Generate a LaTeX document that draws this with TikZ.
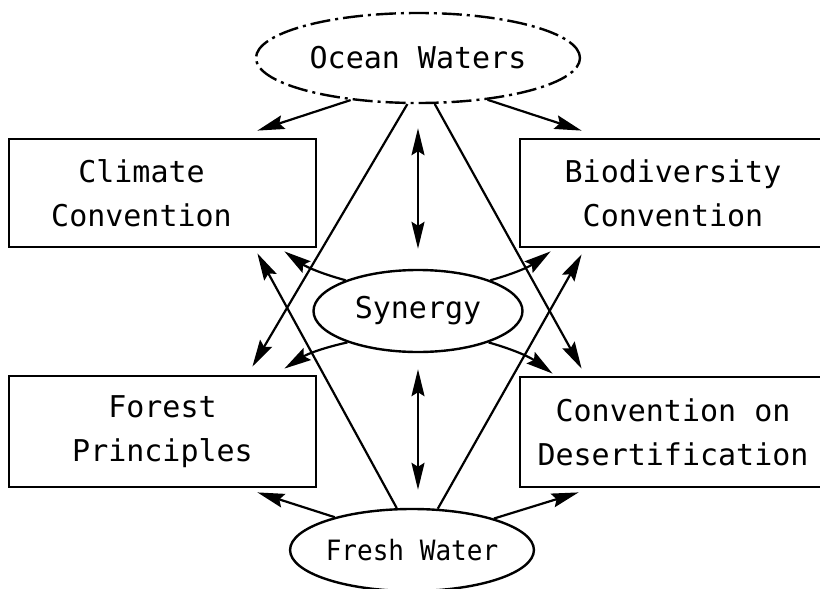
\documentclass[tikz,border=0pt]{standalone}
\usepackage{fontspec}
\newfontfamily\plotfont{DejaVu Sans Mono}
\newfontfamily\plotnarrow[FakeStretch=0.93]{DejaVu Sans Mono}
\usetikzlibrary{arrows.meta, shapes.geometric, calc}

\begin{document}
\begin{tikzpicture}[
    x=1pt, y=-1pt,
    every node/.style={font=\plotfont\fontsize{30}{44}\selectfont},
    conv/.style={draw, line width=2.8pt, minimum width=307pt,
                 minimum height=108pt, align=center, inner sep=0pt},
    water/.style={draw, ellipse, line width=2.4pt, inner sep=0pt},
    link/.style={line width=2.2pt, -{Stealth[length=27pt, width=14pt, inset=4pt]}},
    both/.style={line width=2.2pt,
                 {Stealth[length=27pt, width=13pt, inset=4pt]}-{Stealth[length=27pt, width=13pt, inset=4pt]}},
]

\clip (0,0) rectangle (820,589);   % picture frame, right boxes run off it

% ---------------------------------------------------------------- waters
\node[water, dash pattern=on 20pt off 5pt on 3pt off 5pt,
      minimum width=324pt, minimum height=90pt] (ocean) at (418,58) {Ocean Waters};
\node[water, minimum width=209pt, minimum height=82pt] (synergy) at (418,311) {Synergy};
\node[water, minimum width=217pt, minimum height=82pt,
      font=\plotnarrow\fontsize{28}{32}\selectfont] (fresh) at (412,550) {Fresh Water};

% ---------------------------------------------------------------- conventions
\node[conv, label={[xshift=-21pt, align=center]center:Climate\\Convention}]
    (climate) at (162.5,193) {};
\node[conv, minimum width=306pt] (bio) at (673,193) {Biodiversity\\Convention};
\node[conv, minimum height=111pt] (forest) at (162.5,431.5) {Forest\\Principles};
\node[conv, minimum width=306pt, minimum height=110pt]
    (desert) at (673,432) {Convention on\\Desertification};

% ---------------------------------------------------------------- from the ocean
\draw[link] (ocean.212) -- ($(climate.north east)+(-60,-7)$);
\draw[link] (ocean.329) -- ($(bio.north west)+(63,-7)$);
\draw[link] (ocean.257) -- ($(forest.north east)+(-65,-8)$);
\draw[link] (ocean.290) -- ($(desert.north west)+(63,-7)$);

% ---------------------------------------------------------------- from fresh water
\draw[link] (fresh.110) -- ($(climate.south east)+(-60,5)$);
\draw[link] (fresh.58) -- ($(bio.south west)+(63,6)$);
\draw[link] (fresh.157) -- ($(forest.south east)+(-60,4)$);
\draw[link] (fresh.21) -- ($(desert.south west)+(60,4)$);

% ---------------------------------------------------------------- from synergy
\draw[link] (synergy.157) to[bend left=10] ($(climate.south east)+(-33,3)$);
\draw[link] (synergy.23) to[bend right=10] ($(bio.south west)+(32,3)$);
\draw[link] (synergy.204) to[bend right=10] ($(forest.north east)+(-33,-6)$);
\draw[link] (synergy.336) to[bend left=10] ($(desert.north west)+(34,-2)$);

% ---------------------------------------------------------------- two-way
\draw[both, shorten <=24pt, shorten >=20pt] (ocean.south) -- (synergy.north);
\draw[both, shorten <=16pt, shorten >=18pt] (synergy.south) -- (synergy.south |- fresh.north);

\end{tikzpicture}
\end{document}
